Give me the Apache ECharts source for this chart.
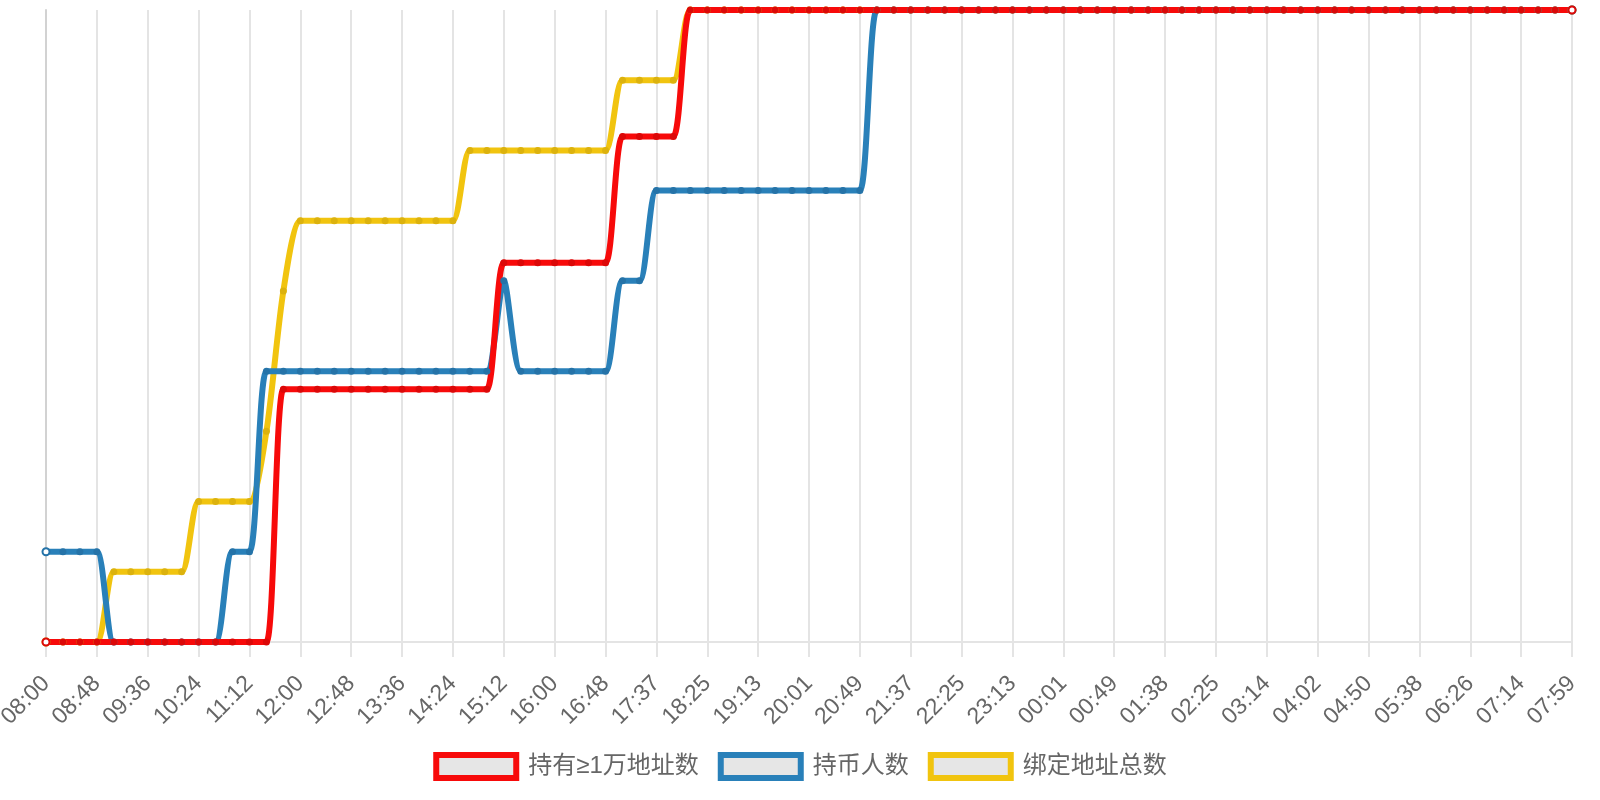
<!DOCTYPE html>
<html lang="zh">
<head>
<meta charset="UTF-8">
<title>chart</title>
<script src="https://cdn.jsdelivr.net/npm/echarts@6/dist/echarts.min.js"></script>
<style>
  html, body { margin: 0; padding: 0; background: #fff; }
  #main { width: 1600px; height: 800px; }
</style>
</head>
<body>
<div id="main"></div>
<script>
// 时间点（每 16 分钟左右一个）
var times = [
  '08:00','08:16','08:32','08:48','09:04','09:20','09:36','09:52','10:08','10:24',
  '10:40','10:56','11:12','11:28','11:44','12:00','12:16','12:32','12:48','13:04',
  '13:20','13:36','13:52','14:08','14:24','14:40','14:56','15:12','15:28','15:44',
  '16:00','16:16','16:32','16:48','17:05','17:21','17:37','17:53','18:09','18:25',
  '18:41','18:57','19:13','19:29','19:45','20:01','20:17','20:33','20:49','21:05',
  '21:21','21:37','21:53','22:09','22:25','22:41','22:57','23:13','23:29','23:45',
  '00:01','00:17','00:33','00:49','01:05','01:21','01:38','01:53','02:09','02:25',
  '02:42','02:58','03:14','03:30','03:46','04:02','04:18','04:34','04:50','05:06',
  '05:22','05:38','05:54','06:10','06:26','06:42','06:58','07:14','07:30','07:46',
  '07:59'
];

var names = ['持有≥1万地址数', '持币人数', '绑定地址总数'];

// 持有≥1万地址数
var bigHolders = [
  0,0,0,0,0,0,0,0,0,0,
  0,0,0,0,2,2,2,2,2,2,
  2,2,2,2,2,2,2,3,3,3,
  3,3,3,3,4,4,4,4,5,5,
  5,5,5,5,5,5,5,5,5,5,
  5,5,5,5,5,5,5,5,5,5,
  5,5,5,5,5,5,5,5,5,5,
  5,5,5,5,5,5,5,5,5,5,
  5,5,5,5,5,5,5,5,5,5,
  5
];
// 持币人数
var holders = [
  1,1,1,1,0,0,0,0,0,0,
  0,1,1,3,3,3,3,3,3,3,
  3,3,3,3,3,3,3,4,3,3,
  3,3,3,3,4,4,5,5,5,5,
  5,5,5,5,5,5,5,5,5,7,
  7,7,7,7,7,7,7,7,7,7,
  7,7,7,7,7,7,7,7,7,7,
  7,7,7,7,7,7,7,7,7,7,
  7,7,7,7,7,7,7,7,7,7,
  7
];
// 绑定地址总数
var bound = [
  0,0,0,0,1,1,1,1,1,2,
  2,2,2,3,5,6,6,6,6,6,
  6,6,6,6,6,7,7,7,7,7,
  7,7,7,7,8,8,8,8,9,9,
  9,9,9,9,9,9,9,9,9,9,
  9,9,9,9,9,9,9,9,9,9,
  9,9,9,9,9,9,9,9,9,9,
  9,9,9,9,9,9,9,9,9,9,
  9,9,9,9,9,9,9,9,9,9,
  9
];

// 每条线各自一根隐藏的 y 轴
var yMax = [5, 7, 9];

var lineColors = ['#f70a0a', '#2980b9', '#f1c40f'];
var dotColors = ['#dc0808', '#2573a8', '#dcb20d'];

var gridGray = '#e4e4e4';
var font = "'Liberation Sans', 'Noto Sans CJK SC', sans-serif";

// 首尾两个点画成空心圆
function points(vals) {
  return vals.map(function (v, i) {
    if (i === 0 || i === vals.length - 1) {
      return { value: v, symbol: 'emptyCircle', itemStyle: { borderWidth: 1.5 } };
    }
    return v;
  });
}

function makeSeries(idx, vals) {
  return {
    name: names[idx],
    type: 'line',
    yAxisIndex: idx,
    data: points(vals),
    smooth: 0.25,
    symbol: 'circle',
    symbolSize: 7,
    showAllSymbol: true,
    lineStyle: { color: lineColors[idx], width: 6 },
    itemStyle: { color: dotColors[idx] },
    emphasis: { disabled: true }
  };
}

var myChart = echarts.init(document.getElementById('main'));

var option = {
  backgroundColor: '#fff',
  animation: false,
  grid: { left: 46, right: 28, top: 10, bottom: 158, containLabel: false, outerBoundsMode: 'none' },
  legend: {
    data: names.map(function (n, i) {
      return { name: n, itemStyle: { borderColor: lineColors[i] } };
    }),
    left: 'center',
    top: 747,
    icon: 'rect',
    itemWidth: 80,
    itemHeight: 23,
    itemGap: 19,
    itemStyle: { color: '#e6e6e6', borderWidth: 6 },
    textStyle: { fontSize: 24, color: '#666', fontFamily: font, padding: [0, 0, 0, 7] },
    selectedMode: false
  },
  xAxis: {
    type: 'category',
    data: times,
    boundaryGap: false,
    axisLine: { lineStyle: { color: gridGray, width: 2 } },
    axisTick: { interval: 2, length: 15, lineStyle: { color: gridGray, width: 2 } },
    splitLine: { show: true, interval: 2, lineStyle: { color: gridGray, width: 2 } },
    axisLabel: {
      interval: 2,
      rotate: 45,
      margin: 38,
      fontSize: 23,
      color: '#666',
      fontFamily: font
    }
  },
  yAxis: [
    {
      type: 'value', min: 0, max: yMax[0],
      axisLine: { show: true, lineStyle: { color: '#d2d2d2', width: 2 } },
      axisTick: { show: false },
      axisLabel: { show: false },
      splitLine: { show: false }
    },
    { type: 'value', min: 0, max: yMax[1], show: false, splitLine: { show: false } },
    { type: 'value', min: 0, max: yMax[2], show: false, splitLine: { show: false } }
  ],
  // 黄色在最下，红色在最上
  series: [
    makeSeries(2, bound),
    makeSeries(1, holders),
    makeSeries(0, bigHolders)
  ]
};

myChart.setOption(option);
</script>
</body>
</html>
